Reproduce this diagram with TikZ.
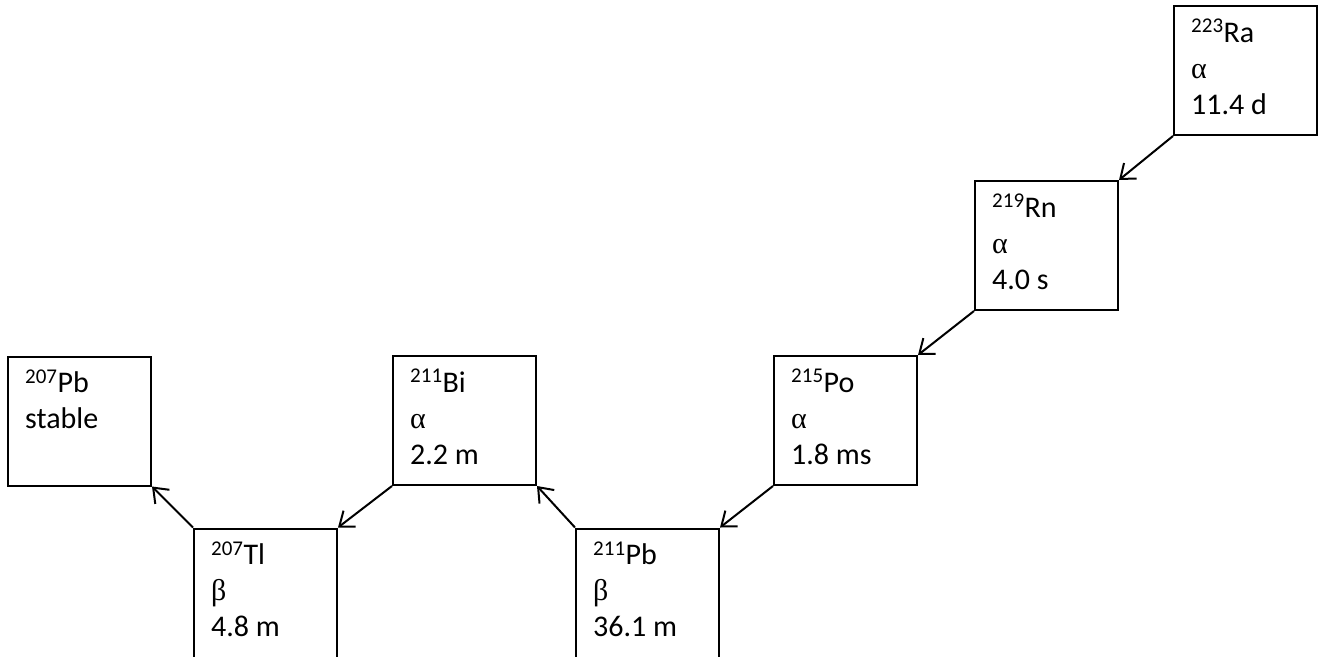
\documentclass[tikz,border=0pt]{standalone}
\usepackage{fontspec}
\setmainfont{Carlito}
\newfontfamily\greekfont{Liberation Serif}
\usetikzlibrary{arrows.meta}

% one decay step: isotope, mode and half-life
\newcommand{\isotope}[2]{\textsuperscript{#1}#2}

\begin{document}
\begin{tikzpicture}[x=1pt,y=-1pt,
  nuclide/.style={draw, line width=2pt, minimum width=143pt, minimum height=129pt, inner sep=0pt},
  nuclidetext/.style={anchor=base west, inner sep=0pt, font=\fontsize{30}{36}\selectfont},
  decay/.style={line width=2pt, -{Straight Barb[length=13pt,width=20pt,line width=2pt]}}
]
\useasboundingbox (0,0) rectangle (1319,656);
\clip (0,0) rectangle (1319,656);

% boxes
\node[nuclide] (ra)   at (1245.5, 70.5) {};
\node[nuclide] (rn)   at (1046.5,245.5) {};
\node[nuclide] (po)   at ( 845.5,420.5) {};
\node[nuclide] (bi)   at ( 464.5,420.5) {};
\node[nuclide] (pbs)  at (  79.5,421.0) {};
\node[nuclide] (tl)   at ( 265.5,593.0) {};
\node[nuclide] (pb)   at ( 647.5,593.0) {};

% labels
\node[nuclidetext] (rat) at ([shift={(18,37)}]ra.north west)
  {\begin{tabular}[t]{@{}l@{}}\isotope{223}{Ra}\\{\greekfont α}\\11.4 d\end{tabular}};
\node[nuclidetext] (rnt) at ([shift={(18,37)}]rn.north west)
  {\begin{tabular}[t]{@{}l@{}}\isotope{219}{Rn}\\{\greekfont α}\\4.0 s\end{tabular}};
\node[nuclidetext] (pot) at ([shift={(18,37)}]po.north west)
  {\begin{tabular}[t]{@{}l@{}}\isotope{215}{Po}\\{\greekfont α}\\1.8 ms\end{tabular}};
\node[nuclidetext] (bit) at ([shift={(18,37)}]bi.north west)
  {\begin{tabular}[t]{@{}l@{}}\isotope{211}{Bi}\\{\greekfont α}\\2.2 m\end{tabular}};
\node[nuclidetext] (pbst) at ([shift={(18,37)}]pbs.north west)
  {\begin{tabular}[t]{@{}l@{}}\isotope{207}{Pb}\\stable\end{tabular}};
\node[nuclidetext] (tlt) at ([shift={(18,37)}]tl.north west)
  {\begin{tabular}[t]{@{}l@{}}\isotope{207}{Tl}\\{\greekfont β}\\4.8 m\end{tabular}};
\node[nuclidetext] (pbt) at ([shift={(18,37)}]pb.north west)
  {\begin{tabular}[t]{@{}l@{}}\isotope{211}{Pb}\\{\greekfont β}\\36.1 m\end{tabular}};

% decay chain
\draw[decay] (ra.south west) -- (rn.north east);
\draw[decay] (rn.south west) -- (po.north east);
\draw[decay] (po.south west) -- (pb.north east);
\draw[decay] (pb.north west) -- (bi.south east);
\draw[decay] (bi.south west) -- (tl.north east);
\draw[decay] (tl.north west) -- (pbs.south east);
\end{tikzpicture}
\end{document}
